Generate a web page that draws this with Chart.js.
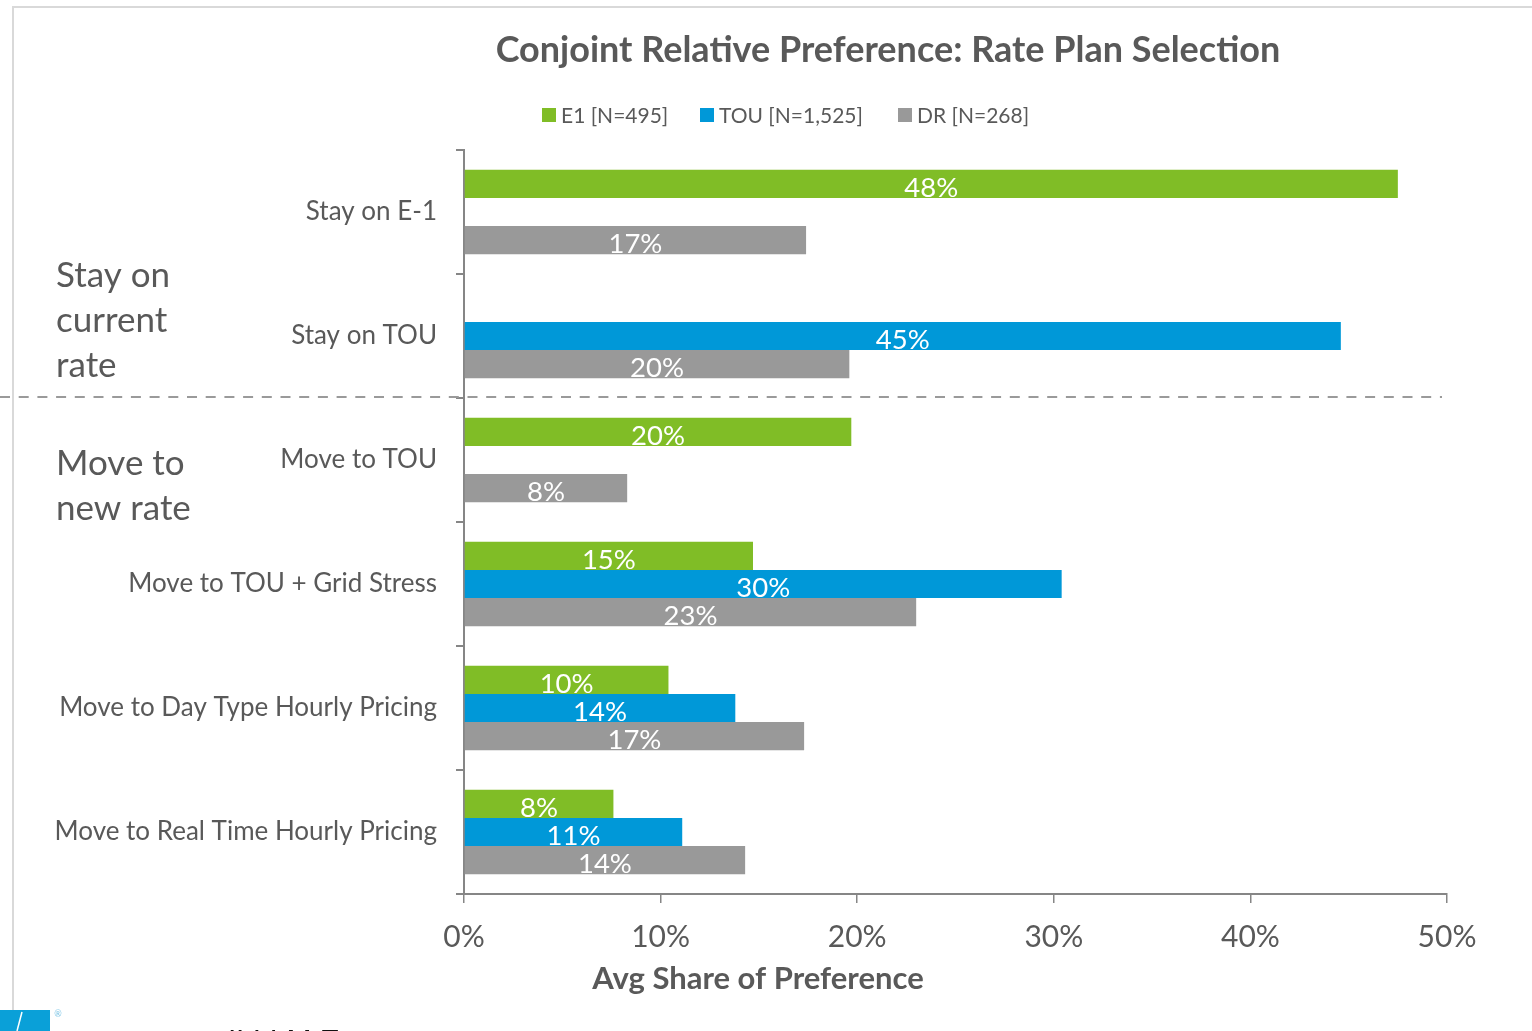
<!DOCTYPE html>
<html>
<head>
<meta charset="utf-8">
<script src="https://cdn.jsdelivr.net/npm/chart.js@4.4.1/dist/chart.umd.min.js"></script>
<style>
  body { margin: 0; background: #fff; }
  canvas { display: block; }
</style>
</head>
<body>
<canvas id="myChart" width="1532" height="1031"></canvas>
<script>
// rate plan options (y axis) and share of preference per customer group
const categories = ['Stay on E-1', 'Stay on TOU', 'Move to TOU', 'Move to TOU + Grid Stress',
  'Move to Day Type Hourly Pricing', 'Move to Real Time Hourly Pricing'];
const seriesNames = ['E1 [N=495]', 'TOU [N=1,525]', 'DR [N=268]'];
const e1Values = [47.5, null, 19.7, 14.7, 10.4, 7.6];
const touValues = [null, 44.6, null, 30.4, 13.8, 11.1];
const drValues = [17.4, 19.6, 8.3, 23.0, 17.3, 14.3];
const xTicks = [0, 10, 20, 30, 40, 50];
const groupLabels = [['Stay on', 'current', 'rate'], ['Move to', 'new rate']];

const colors = ['#80bd26', '#0098d8', '#999999'];
const textGray = '#595959';
const axisGray = '#868686';
const fontName = 'Lato, "Open Sans", sans-serif';

const ctx = document.getElementById('myChart');

// extra drawing: frame, title, legend, group labels, divider, value labels
const decorations = {
  id: 'decorations',
  beforeDraw(chart) {
    const c = chart.ctx;
    c.save();
    c.fillStyle = '#fff';
    c.fillRect(0, 0, chart.width, chart.height);
    // light frame on left and top
    c.strokeStyle = '#d9d9d9';
    c.lineWidth = 2;
    c.beginPath();
    c.moveTo(13, 1031);
    c.lineTo(13, 7);
    c.lineTo(1532, 7);
    c.stroke();

    // title
    c.fillStyle = textGray;
    c.font = 'bold 36px ' + fontName;
    c.textAlign = 'center';
    c.textBaseline = 'middle';
    c.fillText('Conjoint Relative Preference: Rate Plan Selection', 888, 50);

    // legend
    c.font = '21px ' + fontName;
    c.textAlign = 'left';
    const legendX = [542, 700, 898];
    chart.data.datasets.forEach((ds, i) => {
      c.fillStyle = ds.backgroundColor;
      c.fillRect(legendX[i], 108, 14, 14);
      c.fillStyle = textGray;
      c.fillText(ds.label, legendX[i] + 19, 116);
    });

    // group labels on the left
    c.font = '35px ' + fontName;
    groupLabels[0].forEach((t, i) => c.fillText(t, 56, 276 + i * 45));
    groupLabels[1].forEach((t, i) => c.fillText(t, 56, 464 + i * 45));

    // x axis title
    c.font = 'bold 31px ' + fontName;
    c.textAlign = 'center';
    c.fillText('Avg Share of Preference', 758, 979);

    // logo fragment at the bottom
    c.fillStyle = '#0aa0d8';
    c.fillRect(0, 1010, 50, 21);
    c.strokeStyle = '#fff';
    c.lineWidth = 1.5;
    c.beginPath();
    c.moveTo(17, 1031);
    c.lineTo(22, 1012);
    c.stroke();
    c.fillStyle = '#7fc6e6';
    c.font = '9px ' + fontName;
    c.fillText('®', 58, 1014);
    c.fillStyle = '#111';
    c.font = '30px "Liberation Sans", sans-serif';
    c.textAlign = 'left';
    c.textBaseline = 'alphabetic';
    c.fillText('ILLLM E', 228, 1050);
    c.restore();
  },
  afterDraw(chart) {
    const c = chart.ctx;
    c.save();
    // dashed divider between the two groups
    c.strokeStyle = '#9a9a9a';
    c.lineWidth = 2;
    c.setLineDash([10, 8.7]);
    c.beginPath();
    c.moveTo(0, 397);
    c.lineTo(1442, 397);
    c.stroke();
    c.setLineDash([]);

    // value labels centred in each bar
    c.fillStyle = '#fff';
    c.font = '27.5px ' + fontName;
    c.textAlign = 'center';
    c.textBaseline = 'middle';
    chart.data.datasets.forEach((ds, i) => {
      chart.getDatasetMeta(i).data.forEach((bar, j) => {
        const v = ds.data[j];
        if (v === null) return;
        const x = (bar.base + bar.x) / 2;
        c.fillText(Math.round(v) + '%', x, bar.y + 4);
      });
    });
    c.restore();
  }
};

new Chart(ctx, {
  type: 'bar',
  data: {
    labels: categories,
    datasets: [
      { label: seriesNames[0], data: e1Values, backgroundColor: colors[0] },
      { label: seriesNames[1], data: touValues, backgroundColor: colors[1] },
      { label: seriesNames[2], data: drValues, backgroundColor: colors[2] }
    ]
  },
  options: {
    indexAxis: 'y',
    responsive: false,
    animation: false,
    layout: { padding: { top: 150, right: 85, left: 0, bottom: 0 } },
    datasets: {
      bar: { categoryPercentage: 0.68, barPercentage: 1, borderWidth: 0 }
    },
    plugins: {
      legend: { display: false },
      title: { display: false },
      tooltip: { enabled: false }
    },
    scales: {
      x: {
        min: 0,
        max: 50,
        afterBuildTicks: (scale) => { scale.ticks = xTicks.map(v => ({ value: v })); },
        afterFit: (scale) => { scale.height = 137; },
        border: { color: axisGray, width: 2 },
        grid: { drawOnChartArea: false, drawTicks: true, tickLength: 9, color: axisGray, lineWidth: 1.5 },
        ticks: {
          color: textGray,
          padding: 16,
          font: { family: fontName, size: 30 },
          callback: (v) => v + '%'
        }
      },
      y: {
        afterFit: (scale) => { scale.width = 464; },
        border: { color: axisGray, width: 2 },
        grid: { drawOnChartArea: false, drawTicks: true, tickLength: 8, color: axisGray, lineWidth: 2 },
        ticks: {
          color: textGray,
          padding: 19,
          font: { family: fontName, size: 26 }
        }
      }
    }
  },
  plugins: [decorations]
});
</script>
</body>
</html>
